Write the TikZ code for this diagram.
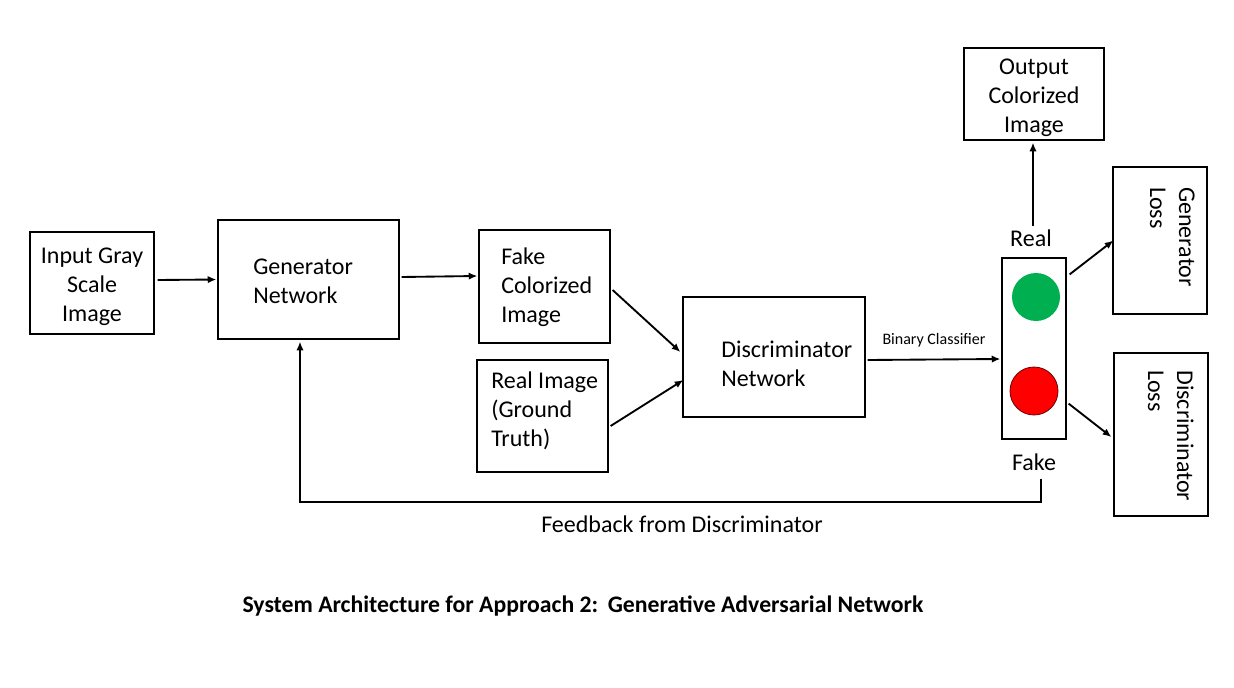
\documentclass[tikz,border=0pt]{standalone}
\usepackage{fontspec}
\setmainfont{Carlito}
\usetikzlibrary{arrows.meta,fit,calc}
\begin{document}
\begin{tikzpicture}[x=0.75pt,y=-0.75pt,
  box/.style={draw=black,line width=0.9pt,inner sep=0pt,fit={#1}},
  txt/.style={inner sep=0pt,align=left,font=\fontsize{18}{21.75}\selectfont},
  ctxt/.style={inner sep=0pt,align=center,font=\fontsize{18}{21.75}\selectfont},
  arr/.style={line width=1.4pt,-{Latex[length=6.5pt,width=5.5pt]}},
  lamp/.style={circle,minimum size=36pt,inner sep=0pt}
]
\useasboundingbox[fill=white] (0,0) rectangle (1234,688);
% boxes
\node[box={(30,232) (154,334)}] (in) {};
\node[box={(218,220) (399,339)}] (gen) {};
\node[box={(479,230) (610,343)}] (fake) {};
\node[box={(477,360) (608,472)}] (real) {};
\node[box={(683,297) (865,417)}] (disc) {};
\node[box={(1002,258) (1066,439)}] (light) {};
\node[box={(964,48) (1104,140)}] (out) {};
\node[box={(1113,167) (1207,314)}] (gl) {};
\node[box={(1114,353) (1208,516)}] (dl) {};
% texts
\node[ctxt] (intxt) at (92,287) {Input Gray\\Scale\\Image};
\node[ctxt] (outtxt) at (1034,97.5) {Output\\Colorized\\Image};
\node[txt,anchor=west] (gentxt) at (253,281) {Generator\\Network};
\node[txt,anchor=west] (faketxt) at (501,287.5) {Fake\\Colorized\\Image};
\node[txt,anchor=west] (realtxt) at (491,410.5) {Real Image\\(Ground\\Truth)};
\node[txt,anchor=west] (disctxt) at (721,364) {Discriminator\\Network};
\node[txt,rotate=-90,anchor=north west] (gltxt) at (1195,187) {Generator\\Loss};
\node[txt,rotate=-90,anchor=north west] (dltxt) at (1194,370) {Discriminator\\Loss};
\node[ctxt] (reallbl) at (1031,238) {Real};
\node[ctxt] (fakelbl) at (1034,462) {Fake};
\node[inner sep=0pt,font=\fontsize{12}{14}\selectfont] (bin) at (934,340) {Binary Classifier};
\node[ctxt] (fbtxt) at (682,524) {Feedback from Discriminator};
\node[inner sep=0pt,font=\fontsize{17.8}{21}\selectfont\bfseries] (cap) at (583,606) {System Architecture for Approach 2:\hspace{0.4em}Generative Adversarial Network};
% lamps
\node[lamp,fill={rgb,255:red,0;green,176;blue,80}] (green) at (1036,297) {};
\node[lamp,fill={rgb,255:red,255;green,0;blue,0},draw={rgb,255:red,110;green,0;blue,0},line width=0.6pt] (red) at (1034,391) {};
% connectors
\draw[arr] ($(in.east)+(3,-3)$) -- ($(gen.west)+(-1,0)$);
\draw[arr] ($(gen.east)+(2,-2.5)$) -- ($(fake.west)+(-1,-10.5)$);
\draw[arr] ($(fake.east)+(2,3.5)$) -- ($(disc.west)+(-2,-5)$);
\draw[arr] ($(real.east)+(2,10)$) -- ($(disc.west)+(1,23)$);
\draw[arr] ($(disc.east)+(2,3)$) -- ($(light.west)+(-1,10.5)$);
\draw[arr] ($(out.south)+(-1,85)$) -- ($(out.south)+(-1,2)$);
\draw[arr] ($(light.north east)+(3,17)$) -- ($(gl.west)+(1,0)$);
\draw[arr] ($(light.south east)+(2,-36)$) -- ($(dl.west)+(-2,2.5)$);
\coordinate (fbc) at (1041,502);
\draw[arr] ($(light.south)+(7,39)$) -- (fbc) -| ($(gen.south)+(-8.5,2)$);
\end{tikzpicture}
\end{document}
